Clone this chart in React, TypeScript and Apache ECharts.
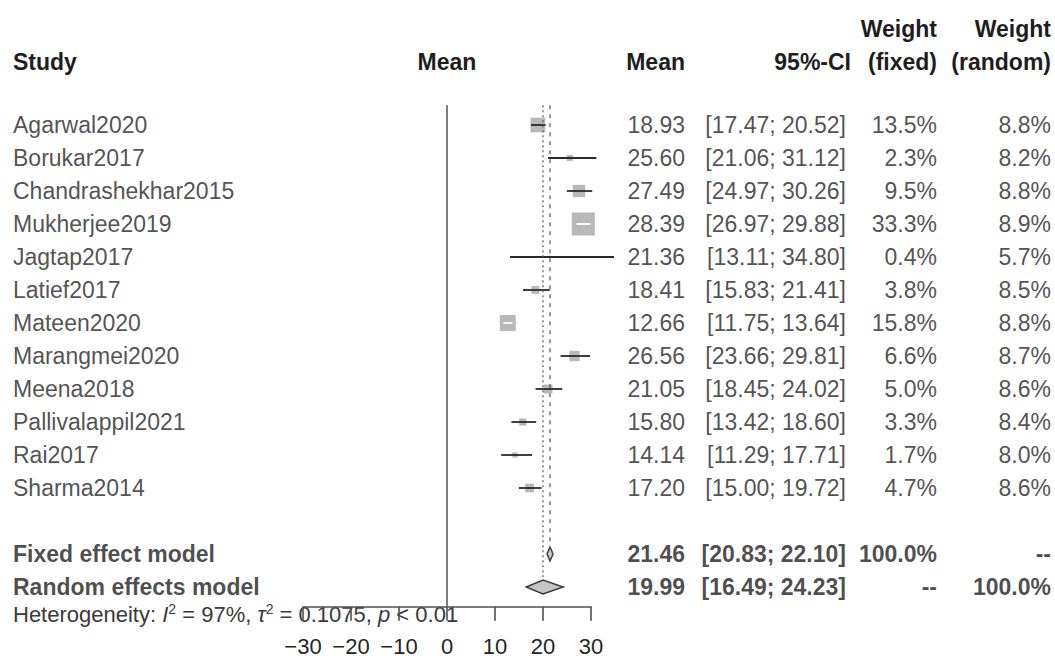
import React, { useEffect, useRef } from "react";
import * as echarts from "echarts";

// ---------------- data ----------------
const studies = [
  "Agarwal2020", "Borukar2017", "Chandrashekhar2015", "Mukherjee2019", "Jagtap2017", "Latief2017",
  "Mateen2020", "Marangmei2020", "Meena2018", "Pallivalappil2021", "Rai2017", "Sharma2014",
];
const means = [18.93, 25.6, 27.49, 28.39, 21.36, 18.41, 12.66, 26.56, 21.05, 15.8, 14.14, 17.2];
const lowers = [17.47, 21.06, 24.97, 26.97, 13.11, 15.83, 11.75, 23.66, 18.45, 13.42, 11.29, 15.0];
const uppers = [20.52, 31.12, 30.26, 29.88, 34.8, 21.41, 13.64, 29.81, 24.02, 18.6, 17.71, 19.72];
const weightFixed = [13.5, 2.3, 9.5, 33.3, 0.4, 3.8, 15.8, 6.6, 5.0, 3.3, 1.7, 4.7];
const weightRandom = [8.8, 8.2, 8.8, 8.9, 5.7, 8.5, 8.8, 8.7, 8.6, 8.4, 8.0, 8.6];

const pooledLabels = ["Fixed effect model", "Random effects model"];
const pooledMeans = [21.46, 19.99];
const pooledLowers = [20.83, 16.49];
const pooledUppers = [22.1, 24.23];
const pooledWeightFixed = ["100.0%", "--"];
const pooledWeightRandom = ["--", "100.0%"];

const xTicks = [-30, -20, -10, 0, 10, 20, 30];
const hetI2 = "97%";
const hetTau2 = "0.1075";
const hetP = "< 0.01";

// ---------------- layout ----------------
const W = 1055;
const H = 671;
const ROW0 = 125;
const ROWH = 33;
const Y_MIN = -1;
const Y_MAX = 14.6;
const GRID_TOP = ROW0 + Y_MIN * ROWH;
const GRID_H = (Y_MAX - Y_MIN) * ROWH;
const PLOT_LEFT = 303;
const PLOT_W = 288;
const LINE_TOP = -0.6;
const pooledRows = [13, 14];
const studyRows = studies.map((_, i) => i);

const COL_STUDY = 13;
const COL_MEAN = 685;
const COL_CI = 846;
const COL_WF = 937;
const COL_WR = 1051;

const FONT = "'Liberation Sans', Arial, Helvetica, sans-serif";
const FS = 23;
const TXT = "#252525";

const fmt2 = (v: number) => v.toFixed(2);
const ci = (lo: number, hi: number) => `[${fmt2(lo)}; ${fmt2(hi)}]`;
const pct = (v: number) => `${v.toFixed(1)}%`;

function textSeries(
  name: string,
  x: number,
  rows: number[],
  texts: string[],
  align: "left" | "right" | "center",
  bold = false
) {
  return {
    name,
    type: "scatter",
    xAxisIndex: 1,
    yAxisIndex: 1,
    symbolSize: 0,
    clip: false,
    silent: true,
    data: rows.map((r, i) => ({ value: [x, r], name: texts[i] })),
    label: {
      show: true,
      position: [0, 0],
      align,
      verticalAlign: "middle",
      formatter: (p: any) => p.name,
      fontFamily: FONT,
      fontSize: FS,
      fontWeight: bold ? "bold" : "normal",
      color: bold ? "#1e1e1e" : TXT,
    },
  };
}

export default function App() {
  const ref = useRef<HTMLDivElement>(null);

  useEffect(() => {
    if (!ref.current) return;
    const chart = echarts.init(ref.current, undefined, { renderer: "svg", width: W, height: H });

    const studyData = studies.map((_, i) => [means[i], lowers[i], uppers[i], weightFixed[i], studyRows[i]]);
    const pooledData = pooledMeans.map((m, i) => [m, pooledLowers[i], pooledUppers[i], pooledRows[i]]);

    const header = (text: string, x: number, y: number, align: string) => ({
      type: "text",
      x,
      y,
      style: {
        text,
        fontFamily: FONT,
        fontSize: FS,
        fontWeight: "bold",
        fill: "#1e1e1e",
        align,
        verticalAlign: "middle",
      },
    });

    const option: any = {
      animation: false,
      backgroundColor: "#ffffff",
      grid: [
        { left: PLOT_LEFT, top: GRID_TOP, width: PLOT_W, height: GRID_H },
        { left: 0, top: GRID_TOP, width: W, height: GRID_H },
      ],
      xAxis: [
        {
          type: "value",
          gridIndex: 0,
          min: xTicks[0],
          max: xTicks[xTicks.length - 1],
          interval: 10,
          splitLine: { show: false },
          axisLine: { show: true, onZero: false, lineStyle: { color: "#505050", width: 1.6 } },
          axisTick: { show: true, length: 14, lineStyle: { color: "#505050", width: 1.6 } },
          axisLabel: {
            fontFamily: FONT,
            fontSize: 22,
            color: TXT,
            margin: 29,
            formatter: (v: number) => (v < 0 ? "\u2212" + Math.abs(v) : String(v)),
          },
        },
        { type: "value", gridIndex: 1, min: 0, max: W, show: false },
      ],
      yAxis: [
        { type: "value", gridIndex: 0, inverse: true, min: Y_MIN, max: Y_MAX, show: false },
        { type: "value", gridIndex: 1, inverse: true, min: Y_MIN, max: Y_MAX, show: false },
      ],
      graphic: [
        header("Study", COL_STUDY, 62, "left"),
        header("Mean", 447, 62, "center"),
        header("Mean", COL_MEAN, 62, "right"),
        header("95%-CI", COL_CI + 5, 62, "right"),
        header("Weight", COL_WF, 29, "right"),
        header("(fixed)", COL_WF, 62, "right"),
        header("Weight", COL_WR, 29, "right"),
        header("(random)", COL_WR, 62, "right"),
        {
          type: "text",
          x: COL_STUDY,
          y: 614,
          style: {
            text: `Heterogeneity: {i|I}{sup|2} = ${hetI2}, {i|\u03C4}{sup|2} = ${hetTau2}, {i|p} ${hetP}`,
            fontFamily: FONT,
            fontSize: 22,
            fill: "#3a3a3a",
            verticalAlign: "middle",
            rich: {
              i: { fontStyle: "italic", fontFamily: FONT, fontSize: 22, fill: "#3a3a3a" },
              sup: { fontSize: 14, fontFamily: FONT, verticalAlign: "top", padding: [0, 0, 10, 0], fill: "#3a3a3a" },
            },
          },
        },
      ],
      series: [
        // reference line at 0
        {
          type: "line",
          xAxisIndex: 0,
          yAxisIndex: 0,
          symbol: "none",
          silent: true,
          data: [[0, LINE_TOP], [0, Y_MAX]],
          lineStyle: { color: "#6e6e6e", width: 1.8 },
        },
        // random effect line (dotted)
        {
          type: "line",
          xAxisIndex: 0,
          yAxisIndex: 0,
          symbol: "none",
          silent: true,
          data: [[pooledMeans[1], LINE_TOP], [pooledMeans[1], pooledRows[1] - 0.22]],
          lineStyle: { color: "#555", width: 1.2, type: [2, 3] },
        },
        // fixed effect line (dashed)
        {
          type: "line",
          xAxisIndex: 0,
          yAxisIndex: 0,
          symbol: "none",
          silent: true,
          data: [[pooledMeans[0], LINE_TOP], [pooledMeans[0], pooledRows[0] - 0.3]],
          lineStyle: { color: "#555", width: 1.2, type: [4, 5] },
        },
        // study squares + CIs
        {
          type: "custom",
          xAxisIndex: 0,
          yAxisIndex: 0,
          silent: true,
          clip: false,
          data: studyData,
          renderItem: (_params: any, api: any) => {
            const m = api.value(0);
            const lo = api.value(1);
            const hi = api.value(2);
            const w = api.value(3);
            const r = api.value(4);
            const c = api.coord([m, r]);
            const pl = api.coord([lo, r]);
            const ph = api.coord([hi, r]);
            const s = 4 * Math.sqrt(w);
            const inside = pl[0] >= c[0] - s / 2 && ph[0] <= c[0] + s / 2;
            return {
              type: "group",
              children: [
                {
                  type: "rect",
                  shape: { x: c[0] - s / 2, y: c[1] - s / 2, width: s, height: s },
                  style: { fill: "#b8b8b8" },
                },
                {
                  type: "line",
                  shape: { x1: pl[0], y1: c[1], x2: ph[0], y2: c[1] },
                  style: { stroke: inside ? "#ffffff" : "#2a2a2a", lineWidth: 1.8 },
                },
              ],
            };
          },
        },
        // pooled diamonds
        {
          type: "custom",
          xAxisIndex: 0,
          yAxisIndex: 0,
          silent: true,
          clip: false,
          data: pooledData,
          renderItem: (_params: any, api: any) => {
            const m = api.value(0);
            const lo = api.value(1);
            const hi = api.value(2);
            const r = api.value(3);
            const c = api.coord([m, r]);
            const pl = api.coord([lo, r]);
            const ph = api.coord([hi, r]);
            const h = 7;
            return {
              type: "polygon",
              shape: {
                points: [
                  [pl[0], c[1]],
                  [c[0], c[1] - h],
                  [ph[0], c[1]],
                  [c[0], c[1] + h],
                ],
              },
              style: { fill: "#c4c4c4", stroke: "#3a3a3a", lineWidth: 1.4 },
            };
          },
        },
        // text columns
        textSeries("study", COL_STUDY, studyRows, studies, "left"),
        textSeries("pooledLabel", COL_STUDY, pooledRows, pooledLabels, "left", true),
        textSeries("mean", COL_MEAN, studyRows, means.map(fmt2), "right"),
        textSeries("pooledMean", COL_MEAN, pooledRows, pooledMeans.map(fmt2), "right", true),
        textSeries("ci", COL_CI, studyRows, studies.map((_, i) => ci(lowers[i], uppers[i])), "right"),
        textSeries("pooledCi", COL_CI, pooledRows, pooledMeans.map((_, i) => ci(pooledLowers[i], pooledUppers[i])), "right", true),
        textSeries("wf", COL_WF, studyRows, weightFixed.map(pct), "right"),
        textSeries("pooledWf", COL_WF, pooledRows, pooledWeightFixed, "right", true),
        textSeries("wr", COL_WR, studyRows, weightRandom.map(pct), "right"),
        textSeries("pooledWr", COL_WR, pooledRows, pooledWeightRandom, "right", true),
      ],
    };

    chart.setOption(option);
    return () => chart.dispose();
  }, []);

  return (
    <div
      ref={ref}
      style={{ position: "fixed", left: 0, top: 0, width: W, height: H, background: "#fff" }}
    />
  );
}
